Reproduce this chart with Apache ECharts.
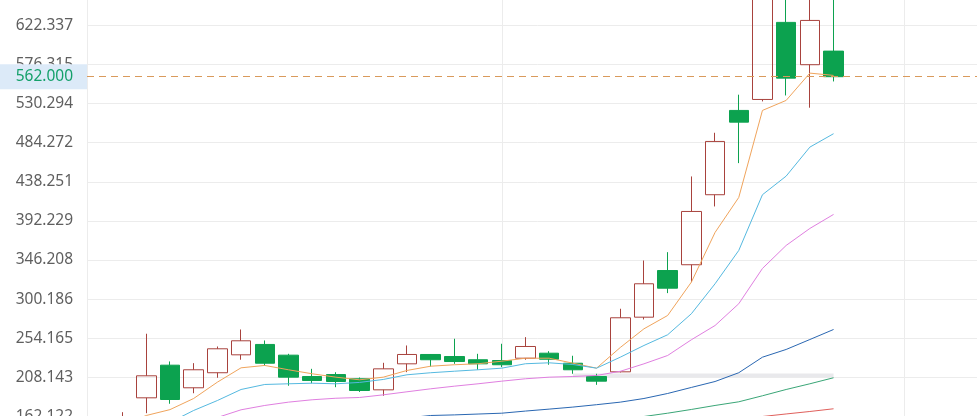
<!DOCTYPE html>
<html>
<head>
<meta charset="utf-8">
<script src="https://cdn.jsdelivr.net/npm/echarts@6/dist/echarts.min.js"></script>
<style>
  html, body { margin: 0; padding: 0; background: #fff; overflow: hidden; width: 977px; height: 416px; }
  /* 图表比窗口大，只露出中间这一段 */
  #chart { position: absolute; left: 0; top: -77px; width: 1000px; height: 560px; }
</style>
</head>
<body>
<div id="chart"></div>
<script>
// 横轴（日期看不到，用序号代替）
const categories = Array.from({ length: 38 }, (_, i) => String(i + 1));

// K线 [开, 收, 低, 高]
const candles = [
  '-',
  [145.0, 152.0, 140.0, 167.2],
  [184.1, 210.0, 166.0, 259.5],
  [222.5, 182.1, 177.1, 226.9],
  [195.9, 217.1, 189.5, 224.9],
  [213.6, 241.8, 207.7, 244.5],
  [234.7, 251.2, 228.9, 264.5],
  [246.9, 224.8, 222.1, 251.6],
  [234.3, 208.4, 198.3, 235.9],
  [209.2, 204.5, 201.3, 218.2],
  [211.5, 203.3, 196.6, 214.2],
  [206.5, 192.7, 191.0, 208.0],
  [193.5, 218.2, 186.5, 225.3],
  [224.1, 235.1, 214.3, 245.7],
  [235.1, 228.9, 220.9, 235.5],
  [232.7, 226.8, 224.1, 253.6],
  [228.9, 224.1, 217.1, 235.9],
  [228.0, 223.0, 220.2, 247.7],
  [230.7, 244.5, 228.9, 255.5],
  [236.6, 229.5, 223.0, 239.0],
  [224.8, 217.1, 212.4, 233.6],
  [209.2, 203.7, 199.4, 212.4],
  [214.7, 278.3, 214.0, 288.9],
  [279.0, 318.3, 276.3, 345.7],
  [333.9, 313.1, 307.3, 355.5],
  [340.7, 403.4, 320.2, 444.6],
  [423.1, 485.8, 409.3, 496.0],
  [522.3, 508.5, 460.3, 540.8],
  [535.2, 662.0, 532.9, 680.0],
  [625.9, 560.3, 539.9, 668.0],
  [576.1, 628.2, 525.5, 672.0],
  [592.1, 562.0, 556.4, 660.0]
];

// 均线
const ma5 = ['-', 151.5, 163.3, 170.2, 183.3, 202.5, 219.4, 222.2, 217.1, 212.4, 208.4, 205.3, 208.4, 216.3, 221.3, 223.0,
  224.2, 227.2, 230.7, 230.7, 224.9, 219.0, 243.3, 265.3, 281.0, 320.2, 378.7, 419.9, 522.3, 534.1, 566.2, 563.5];
const ma10 = ['-', '-', '-', 155.1, 169.2, 180.9, 193.9, 199.8, 200.6, 201.3, 200.6, 202.2, 205.7, 211.2, 213.6, 215.4,
  217.1, 219.0, 224.2, 225.3, 223.3, 219.0, 231.9, 245.7, 258.3, 283.0, 318.3, 357.5, 423.1, 445.0, 479.1, 494.9];
const ma20 = ['-', '-', '-', '-', 155.0, 160.9, 170.0, 175.1, 179.0, 181.8, 183.6, 184.5, 187.6, 191.2, 194.7, 197.8,
  200.6, 203.7, 206.5, 208.4, 209.2, 210.4, 215.3, 224.1, 233.9, 252.4, 269.2, 294.8, 336.3, 363.4, 383.4, 399.9];
const ma30 = ['-', '-', '-', '-', '-', '-', '-', '-', '-', '-', '-', '-', '-', 160.4, 163.3, 164.0,
  165.0, 166.0, 168.5, 170.8, 173.2, 176.0, 179.0, 183.3, 189.2, 196.3, 203.3, 213.6, 231.9, 241.0, 252.7, 264.5];
const ma60 = ['-', '-', '-', '-', '-', '-', '-', '-', '-', '-', '-', '-', '-', '-', '-', '-',
  '-', '-', '-', '-', '-', '-', 159.0, 162.1, 166.0, 170.4, 175.1, 179.4, 186.5, 193.9, 200.6, 207.7];
const ma120 = ['-', '-', '-', '-', '-', '-', '-', '-', '-', '-', '-', '-', '-', '-', '-', '-',
  '-', '-', '-', '-', '-', '-', '-', '-', '-', '-', '-', 159.5, 162.1, 165.1, 168.0, 171.2];
// 灰色横条
const band = ['-', '-', '-', '-', '-', '-', '-', '-', '-', '-', '-', '-', '-', '-', '-', '-',
  '-', '-', '-', '-', 210.4, 210.4, 210.4, 210.4, 210.4, 210.4, 210.4, 210.4, 210.4, 210.4, 210.4, 210.4];

// 纵轴刻度
const yTickStep = 46.0215;
const yTickMin = 116.1004;   // 162.1219 往下一格
const yTickCount = 13;
const lastPrice = 562.0;

const fontFamily = '"Noto Sans", sans-serif';
const chart = echarts.init(document.getElementById('chart'));

function maLine(data, color) {
  return {
    type: 'line',
    data: data,
    symbol: 'none',
    silent: true,
    z: 3,
    lineStyle: { width: 1, color: color },
    itemStyle: { color: color }
  };
}

const option = {
  backgroundColor: '#fff',
  animation: false,
  grid: { left: 87, top: 24.2, width: 900.6, height: 508.4 },
  xAxis: {
    type: 'category',
    data: categories,
    boundaryGap: true,
    axisLine: { show: false },
    axisTick: { show: false },
    axisLabel: { show: false },
    splitLine: {
      show: true,
      alignWithLabel: true,
      interval: (index) => index === 17 || index === 34,
      lineStyle: { color: '#ececec' }
    }
  },
  yAxis: {
    type: 'value',
    min: yTickMin,
    max: yTickMin + yTickCount * yTickStep,
    interval: yTickStep,
    axisLine: { show: true, lineStyle: { color: '#ececec' } },
    axisTick: { show: false },
    axisLabel: {
      margin: 14,
      color: '#5f5f5f',
      fontSize: 15.5,
      fontFamily: fontFamily,
      formatter: (v) => v.toFixed(3)
    },
    splitLine: { lineStyle: { color: '#ececec' } }
  },
  series: [
    {
      type: 'line',
      data: band,
      symbol: 'none',
      silent: true,
      z: 1,
      lineStyle: { width: 4, color: '#e9e9ec' }
    },
    {
      type: 'candlestick',
      data: candles,
      barWidth: 20,
      z: 2,
      itemStyle: {
        color: 'rgba(255,255,255,0)',
        color0: '#0ca24f',
        borderColor: '#a8423d',
        borderColor0: '#0ca24f',
        borderWidth: 1
      },
      markLine: {
        silent: true,
        symbol: ['none', 'none'],
        data: [{ yAxis: lastPrice }],
        itemStyle: { color: '#d99a5c' },
        lineStyle: { color: '#d99a5c', type: [7, 5], width: 1, opacity: 1 },
        label: {
          position: 'start',
          distance: 0,
          formatter: lastPrice.toFixed(3),
          color: '#14a06a',
          backgroundColor: '#dceaf8',
          fontSize: 15.5,
          fontFamily: fontFamily,
          lineHeight: 17,
          padding: [4, 14, 4, 16]
        }
      }
    },
    maLine(ma5, '#f0a45c'),
    maLine(ma10, '#55b9e0'),
    maLine(ma20, '#e07fe0'),
    maLine(ma30, '#2a67b2'),
    maLine(ma60, '#3aa677'),
    maLine(ma120, '#e0605c')
  ]
};

chart.setOption(option);
</script>
</body>
</html>
